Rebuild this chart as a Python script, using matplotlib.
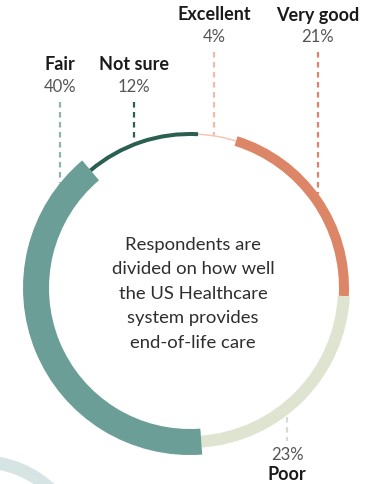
import numpy as np
import matplotlib
matplotlib.use("Agg")
import matplotlib.pyplot as plt
from matplotlib.patches import Wedge

plt.rcParams['font.family'] = ['Lato', 'DejaVu Sans']

# ring data, clockwise from the top
categories = ["Excellent", "Very good", "Poor", "Fair", "Not sure"]
values = [4, 21, 23, 40, 12]
colors = ["#f3c6b6", "#dc8567", "#dee4cf", "#6b9e97", "#2a5f51"]
thick = [1.5, 10, 12, 26, 4]          # band thickness in px
dash_colors = ["#f1bba9", "#dc8567", "#d9dbd2", "#8fb3ad", "#2a5f51"]
# label placement (x, label y); Poor sits below the ring
label_pos = {"Excellent": (214, 15), "Very good": (318, 15),
             "Fair": (60, 65), "Not sure": (134, 65), "Poor": (287, 475)}

cx, cy, R = 190, 289, 154
start = 3  # degrees clockwise from 12 o'clock

fig = plt.figure(figsize=(3.75, 4.85), dpi=100)
ax = fig.add_axes([0, 0, 1, 1])
ax.set_xlim(0, 375)
ax.set_ylim(485, 0)
ax.axis("off")

# faint decorative arc in the corner
ax.add_patch(Wedge((-20, 566), 110, -115, -20, width=13, color="#d7e4e4", lw=0))

total = sum(values)
a = start
for cat, v, c, t, dc in zip(categories, values, colors, thick, dash_colors):
    span = 360 * v / total
    # y axis is inverted so wedge angles run clockwise from 3 o'clock
    ax.add_patch(Wedge((cx, cy), R + t / 2, a - 90, a + span - 90, width=t,
                       color=c, lw=0))
    a += span

    x, ly = label_pos[cat]
    ro = R + t / 2
    dy = np.sqrt(max(ro**2 - (x - cx)**2, 0))
    if cat == "Poor":
        ax.plot([x, x], [cy + dy + 2, 442], color=dc, lw=1.6, ls=(0, (2.5, 2)))
        ax.text(x, 455, f"{v}%", ha="center", va="center", fontsize=12,
                color="#555555")
        ax.text(x, ly, cat, ha="center", va="center", fontsize=13,
                fontweight="bold", color="#1a1a1a")
    else:
        ax.plot([x, x], [ly + 38, cy - dy], color=dc, lw=1.6, ls=(0, (2.5, 2)))
        ax.text(x, ly, cat, ha="center", va="center", fontsize=13,
                fontweight="bold", color="#1a1a1a")
        ax.text(x, ly + 22, f"{v}%", ha="center", va="center", fontsize=12,
                color="#555555")

center_lines = ["Respondents are", "divided on how well", "the US Healthcare",
                "system provides", "end-of-life care"]
for i, s in enumerate(center_lines):
    ax.text(cx + 3, 245 + i * 24.5, s, ha="center", va="center", fontsize=13.3,
            color="#2e2e2e")

fig.savefig("out.png", dpi=100)
